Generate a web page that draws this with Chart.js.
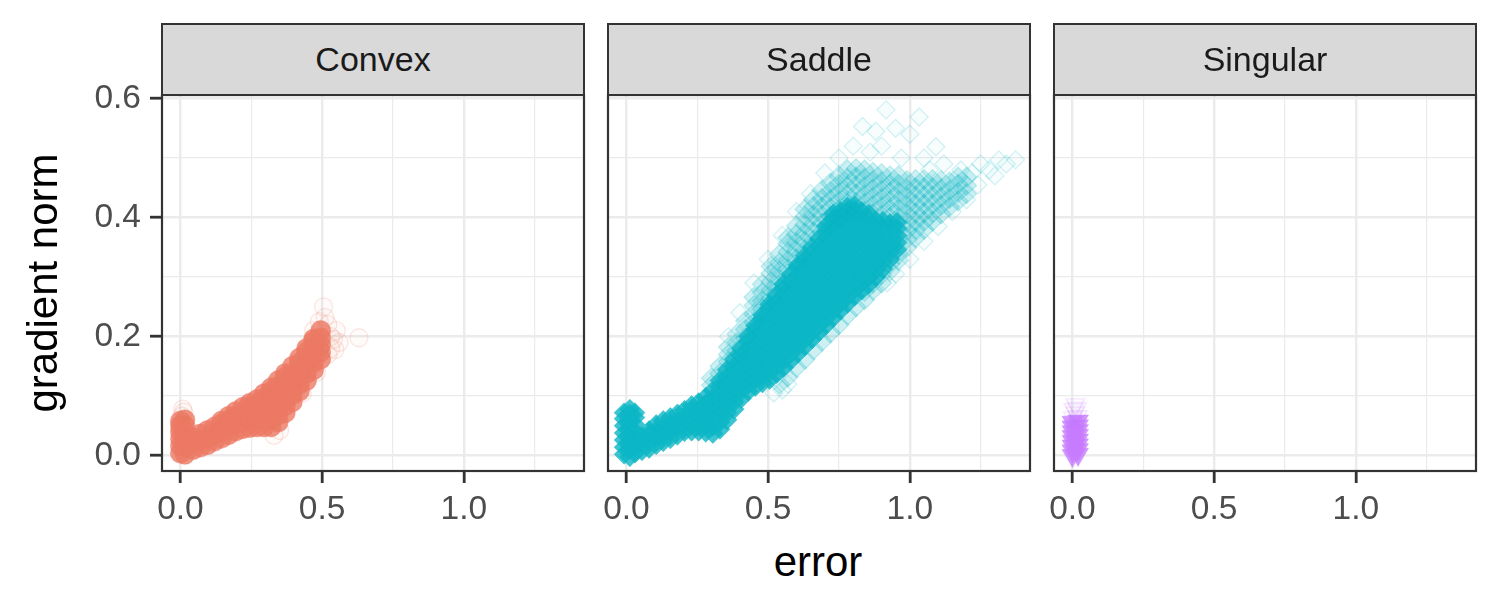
<!DOCTYPE html>
<html>
<head>
<meta charset="utf-8">
<script src="https://cdn.jsdelivr.net/npm/chart.js@4.4.1/dist/chart.umd.min.js"></script>
<style>
  body { margin: 0; width: 1500px; height: 600px; background: #fff; position: relative; overflow: hidden;
         font-family: "Liberation Sans", Arial, sans-serif; }
  .panel { position: absolute; top: 61px; width: 538px; height: 470px; }
  .strip { position: absolute; top: 23px; width: 424px; height: 73px; box-sizing: border-box;
           background: #d9d9d9; border: 2px solid #333; display: flex; align-items: center;
           justify-content: center; font-size: 34px; color: #1a1a1a; }
  .xtitle { position: absolute; left: 618px; width: 400px; top: 541px; height: 42px; line-height: 42px;
            text-align: center; font-size: 42px; color: #000; }
  .ytitle { position: absolute; left: -157px; width: 400px; top: 262px; height: 42px; line-height: 42px;
            text-align: center; font-size: 42px; color: #000; transform: rotate(-90deg); }
</style>
</head>
<body>
<div class="panel" style="left:62px"><canvas id="convexChart" width="538" height="470"></canvas></div>
<div class="panel" style="left:508px"><canvas id="saddleChart" width="538" height="470"></canvas></div>
<div class="panel" style="left:954px"><canvas id="singularChart" width="538" height="470"></canvas></div>
<div class="strip" style="left:161px">Convex</div>
<div class="strip" style="left:607px">Saddle</div>
<div class="strip" style="left:1053px">Singular</div>
<div class="xtitle">error</div>
<div class="ytitle">gradient norm</div>

<script>
// ---------- AXES ----------
const xRange = [-0.065, 1.424];
const yRange = [-0.026, 0.606];
const xMajor = [0, 0.5, 1.0];
const xMinor = [0.25, 0.75, 1.25];
const xTickLabels = ["0.0", "0.5", "1.0"];
const yMajor = [0, 0.2, 0.4, 0.6];
const yMinor = [0.1, 0.3, 0.5];
const yTickLabels = ["0.0", "0.2", "0.4", "0.6"];

// ---------- DATA (error, gradient norm) ----------
// dense part: [error, [gradient norms...]]
const convexCore = [
  [0.0, [0.004, 0.016, 0.028, 0.04, 0.05, 0.058]],
  [0.016, [0.002, 0.014, 0.026, 0.038, 0.05, 0.06]],
  [0.045, [0.01, 0.022, 0.03]],
  [0.07, [0.014, 0.026, 0.036]],
  [0.095, [0.018, 0.03, 0.042]],
  [0.12, [0.024, 0.036, 0.048]],
  [0.145, [0.029, 0.041, 0.053, 0.058]],
  [0.17, [0.035, 0.047, 0.059, 0.066]],
  [0.195, [0.041, 0.053, 0.065, 0.074]],
  [0.22, [0.045, 0.057, 0.069, 0.081]],
  [0.245, [0.047, 0.059, 0.071, 0.083, 0.088]],
  [0.27, [0.048, 0.06, 0.072, 0.084, 0.094]],
  [0.295, [0.048, 0.06, 0.072, 0.084, 0.096, 0.104]],
  [0.32, [0.048, 0.06, 0.072, 0.084, 0.096, 0.108, 0.114]],
  [0.345, [0.056, 0.068, 0.08, 0.092, 0.104, 0.116, 0.126]],
  [0.37, [0.072, 0.084, 0.096, 0.108, 0.12, 0.132, 0.138]],
  [0.395, [0.09, 0.102, 0.114, 0.126, 0.138, 0.15]],
  [0.42, [0.108, 0.12, 0.132, 0.144, 0.156, 0.164]],
  [0.445, [0.126, 0.138, 0.15, 0.162, 0.174, 0.18]],
  [0.47, [0.144, 0.156, 0.168, 0.18, 0.192, 0.196]],
  [0.495, [0.162, 0.174, 0.186, 0.198, 0.21]]
];
const convexFringe = [
  [0.005, 0.066], [0.012, 0.073], [0.008, 0.078], [0.53, 0.18], [0.53, 0.2], [0.52, 0.22], [0.51, 0.232],
  [0.505, 0.25], [0.54, 0.195], [0.55, 0.21], [0.56, 0.19], [0.63, 0.198], [0.49, 0.225],
  [0.47, 0.21], [0.52, 0.17], [0.545, 0.178], [0.33, 0.034], [0.35, 0.042], [0.48, 0.14], [0.43, 0.105]
];

const saddleCore = [
  [-0.008, [0.002, 0.014, 0.026, 0.038, 0.05, 0.062, 0.072]],
  [0.012, [-0.002, 0.01, 0.022, 0.034, 0.046, 0.058, 0.07, 0.078]],
  [0.03, [0.004, 0.016, 0.028, 0.04, 0.052, 0.064, 0.072]],
  [0.055, [0.008, 0.02, 0.032]],
  [0.08, [0.012, 0.024, 0.036, 0.042]],
  [0.105, [0.018, 0.03, 0.042, 0.052]],
  [0.13, [0.023, 0.035, 0.047, 0.059]],
  [0.155, [0.028, 0.04, 0.052, 0.064]],
  [0.18, [0.034, 0.046, 0.058, 0.07]],
  [0.205, [0.04, 0.052, 0.064, 0.076]],
  [0.23, [0.041, 0.053, 0.065, 0.077, 0.084]],
  [0.255, [0.041, 0.053, 0.065, 0.077, 0.089]],
  [0.28, [0.039, 0.051, 0.063, 0.075, 0.087, 0.098]],
  [0.305, [0.037, 0.049, 0.061, 0.073, 0.085, 0.097, 0.109]],
  [0.33, [0.044, 0.056, 0.068, 0.08, 0.092, 0.104, 0.116, 0.126]],
  [0.355, [0.06, 0.072, 0.084, 0.096, 0.108, 0.12, 0.132, 0.144]],
  [0.38, [0.078, 0.09, 0.102, 0.114, 0.126, 0.138, 0.15, 0.162]],
  [0.405, [0.096, 0.108, 0.12, 0.132, 0.144, 0.156, 0.168, 0.18]],
  [0.43, [0.108, 0.12, 0.132, 0.144, 0.156, 0.168, 0.18, 0.192, 0.2]],
  [0.455, [0.116, 0.128, 0.14, 0.152, 0.164, 0.176, 0.188, 0.2, 0.212, 0.218]],
  [0.48, [0.122, 0.134, 0.146, 0.158, 0.17, 0.182, 0.194, 0.206, 0.218, 0.23, 0.236]],
  [0.505, [0.128, 0.14, 0.152, 0.164, 0.176, 0.188, 0.2, 0.212, 0.224, 0.236, 0.248, 0.254]],
  [0.53, [0.138, 0.15, 0.162, 0.174, 0.186, 0.198, 0.21, 0.222, 0.234, 0.246, 0.258, 0.27]],
  [0.555, [0.148, 0.16, 0.172, 0.184, 0.196, 0.208, 0.22, 0.232, 0.244, 0.256, 0.268, 0.28, 0.288]],
  [0.58, [0.16, 0.172, 0.184, 0.196, 0.208, 0.22, 0.232, 0.244, 0.256, 0.268, 0.28, 0.292, 0.304]],
  [0.605, [0.172, 0.184, 0.196, 0.208, 0.22, 0.232, 0.244, 0.256, 0.268, 0.28, 0.292, 0.304, 0.316, 0.32]],
  [0.63, [0.184, 0.196, 0.208, 0.22, 0.232, 0.244, 0.256, 0.268, 0.28, 0.292, 0.304, 0.316, 0.328, 0.336]],
  [0.655, [0.196, 0.208, 0.22, 0.232, 0.244, 0.256, 0.268, 0.28, 0.292, 0.304, 0.316, 0.328, 0.34, 0.35]],
  [0.68, [0.208, 0.22, 0.232, 0.244, 0.256, 0.268, 0.28, 0.292, 0.304, 0.316, 0.328, 0.34, 0.352, 0.364]],
  [0.705, [0.22, 0.232, 0.244, 0.256, 0.268, 0.28, 0.292, 0.304, 0.316, 0.328, 0.34, 0.352, 0.364, 0.376, 0.386]],
  [0.73, [0.232, 0.244, 0.256, 0.268, 0.28, 0.292, 0.304, 0.316, 0.328, 0.34, 0.352, 0.364, 0.376, 0.388, 0.398, 0.406]],
  [0.755, [0.244, 0.256, 0.268, 0.28, 0.292, 0.304, 0.316, 0.328, 0.34, 0.352, 0.364, 0.376, 0.388, 0.4, 0.41]],
  [0.78, [0.256, 0.268, 0.28, 0.292, 0.304, 0.316, 0.328, 0.34, 0.352, 0.364, 0.376, 0.388, 0.4, 0.41, 0.418]],
  [0.805, [0.268, 0.28, 0.292, 0.304, 0.316, 0.328, 0.34, 0.352, 0.364, 0.376, 0.388, 0.4, 0.412, 0.42]],
  [0.83, [0.278, 0.29, 0.302, 0.314, 0.326, 0.338, 0.35, 0.362, 0.374, 0.386, 0.398, 0.41]],
  [0.855, [0.288, 0.3, 0.312, 0.324, 0.336, 0.348, 0.36, 0.372, 0.384, 0.396, 0.406]],
  [0.88, [0.3, 0.312, 0.324, 0.336, 0.348, 0.36, 0.372, 0.384, 0.394]],
  [0.905, [0.314, 0.326, 0.338, 0.35, 0.362, 0.374, 0.386, 0.394]],
  [0.93, [0.33, 0.342, 0.354, 0.366, 0.378, 0.39]],
  [0.955, [0.346, 0.358, 0.37, 0.382, 0.392]]
];
const saddleMid = [
  [0.3, [0.118, 0.13]],
  [0.33, [0.138, 0.15]],
  [0.36, [0.158, 0.17, 0.182]],
  [0.39, [0.176, 0.19, 0.204]],
  [0.42, [0.198, 0.212, 0.226]],
  [0.45, [0.224, 0.238, 0.252, 0.266]],
  [0.48, [0.246, 0.26, 0.274, 0.288]],
  [0.51, [0.264, 0.278, 0.292, 0.306, 0.318]],
  [0.54, [0.12, 0.282, 0.296, 0.31, 0.324, 0.338]],
  [0.57, [0.132, 0.3, 0.314, 0.328, 0.342, 0.356, 0.366]],
  [0.6, [0.148, 0.33, 0.344, 0.358, 0.372, 0.386]],
  [0.63, [0.162, 0.346, 0.36, 0.374, 0.388, 0.402, 0.414]],
  [0.66, [0.178, 0.362, 0.376, 0.39, 0.404, 0.418, 0.43]],
  [0.69, [0.192, 0.376, 0.39, 0.404, 0.418, 0.432, 0.446]],
  [0.72, [0.206, 0.388, 0.402, 0.416, 0.43, 0.444, 0.458]],
  [0.75, [0.22, 0.4, 0.414, 0.428, 0.442, 0.456, 0.47]],
  [0.78, [0.236, 0.41, 0.424, 0.438, 0.452, 0.466, 0.48]],
  [0.81, [0.25, 0.412, 0.426, 0.44, 0.454, 0.468, 0.482]],
  [0.84, [0.262, 0.276, 0.41, 0.424, 0.438, 0.452, 0.466, 0.48]],
  [0.87, [0.278, 0.29, 0.406, 0.42, 0.434, 0.448, 0.462, 0.476]],
  [0.9, [0.29, 0.304, 0.404, 0.418, 0.432, 0.446, 0.46, 0.474]],
  [0.93, [0.31, 0.322, 0.4, 0.414, 0.428, 0.442, 0.456, 0.47]],
  [0.96, [0.328, 0.338, 0.4, 0.414, 0.428, 0.442, 0.456, 0.47]],
  [0.99, [0.35, 0.364, 0.378, 0.392, 0.406, 0.42, 0.434, 0.448, 0.462]],
  [1.02, [0.366, 0.38, 0.394, 0.408, 0.422, 0.436, 0.45, 0.464]],
  [1.05, [0.38, 0.394, 0.408, 0.422, 0.436, 0.45, 0.464]],
  [1.08, [0.394, 0.408, 0.422, 0.436, 0.45, 0.464]],
  [1.11, [0.406, 0.42, 0.434, 0.448, 0.462]],
  [1.14, [0.418, 0.432, 0.446, 0.46]],
  [1.17, [0.428, 0.442, 0.456, 0.468]],
  [1.2, [0.44, 0.454, 0.468]]
];
const saddleFringe = [
  [0.36, 0.2], [0.4, 0.24], [0.45, 0.29], [0.5, 0.33], [0.55, 0.37], [0.6, 0.41], [0.65, 0.44],
  [0.7, 0.475], [0.75, 0.5], [0.8, 0.52], [0.833, 0.553], [0.916, 0.581], [0.88, 0.545], [0.95, 0.55],
  [1.033, 0.569], [1.0, 0.54], [1.092, 0.519], [1.05, 0.5], [1.12, 0.49], [1.18, 0.48], [1.25, 0.49],
  [1.314, 0.497], [1.373, 0.497], [1.3, 0.47], [1.24, 0.455], [1.2, 0.43], [1.15, 0.41], [1.1, 0.385],
  [1.05, 0.36], [1.0, 0.33], [0.95, 0.305], [0.92, 0.29], [0.55, 0.11], [0.57, 0.12], [0.52, 0.105],
  [0.9, 0.52], [0.86, 0.51], [0.97, 0.5], [1.07, 0.48], [1.28, 0.48], [1.34, 0.49], [1.22, 0.475]
];

const singularCore = [
  [0.0, [0.0, 0.008, 0.016, 0.024, 0.032, 0.04, 0.048, 0.056]],
  [0.02, [0.002, 0.01, 0.018, 0.026, 0.034, 0.042, 0.05, 0.058]]
];
const singularFringe = [
  [0.002, 0.064], [0.018, 0.066], [0.01, 0.072], [0.004, 0.078], [0.016, 0.08], [0.01, 0.086]
];

// ---------- HELPERS ----------
const colsToPoints = cols => cols.flatMap(([x, ys]) => ys.map(y => ({ x: x, y: y })));
const pairsToPoints = pairs => pairs.map(([x, y]) => ({ x: x, y: y }));
const rgba = (c, a) => `rgba(${c[0]}, ${c[1]}, ${c[2]}, ${a})`;

const panelBorder = {
  id: "panelBorder",
  afterDraw(chart) {
    const { ctx, chartArea: a } = chart;
    ctx.save();
    ctx.strokeStyle = "#333333";
    ctx.lineWidth = 2.2;
    ctx.strokeRect(a.left, a.top, a.right - a.left, a.bottom - a.top);
    ctx.restore();
  }
};

Chart.defaults.font.family = '"Liberation Sans", Arial, sans-serif';

function makeOptions(showY) {
  return {
    responsive: false,
    animation: false,
    events: [],
    layout: { padding: { top: 34, right: 16, left: 0, bottom: 0 } },
    plugins: { legend: { display: false }, tooltip: { enabled: false } },
    scales: {
      x: {
        type: "linear", min: xRange[0], max: xRange[1],
        afterBuildTicks: s => { s.ticks = xMajor.concat(xMinor).sort((a, b) => a - b).map(v => ({ value: v })); },
        afterFit: s => { s.height = 60; },
        border: { display: false },
        grid: {
          color: "#ebebeb",
          lineWidth: c => (c.tick && xMajor.includes(c.tick.value)) ? 2.4 : 1.2,
          tickColor: c => (c.tick && xMajor.includes(c.tick.value)) ? "#333333" : "rgba(0,0,0,0)",
          tickWidth: 2.8,
          tickLength: 12
        },
        ticks: {
          autoSkip: false, maxRotation: 0, padding: 7, color: "#4d4d4d", font: { size: 33.5 },
          callback: v => { const i = xMajor.indexOf(v); return i >= 0 ? xTickLabels[i] : ""; }
        }
      },
      y: {
        type: "linear", min: yRange[0], max: yRange[1],
        afterBuildTicks: s => { s.ticks = yMajor.concat(yMinor).sort((a, b) => a - b).map(v => ({ value: v })); },
        afterFit: s => { s.width = 100; },
        border: { display: false },
        grid: {
          color: "#ebebeb",
          lineWidth: c => (c.tick && yMajor.includes(c.tick.value)) ? 2.4 : 1.2,
          tickColor: c => (c.tick && yMajor.includes(c.tick.value)) ? "#333333" : "rgba(0,0,0,0)",
          tickWidth: 2.8,
          tickLength: 12,
          drawTicks: showY
        },
        ticks: {
          display: showY, autoSkip: false, padding: 9, color: "#4d4d4d", font: { size: 33.5 },
          callback: v => { const i = yMajor.indexOf(v); return i >= 0 ? yTickLabels[i] : ""; }
        }
      }
    }
  };
}

function makeDatasets(color, style, rotation, radius, core, mid, fringe) {
  const sets = [];
  sets.push({
    data: pairsToPoints(fringe), pointStyle: style, rotation: rotation, pointRadius: radius - 1,
    backgroundColor: rgba(color, 0.03), borderColor: rgba(color, 0.18), borderWidth: 1.3
  });
  if (mid) {
    sets.push({
      data: colsToPoints(mid), pointStyle: style, rotation: rotation, pointRadius: radius,
      backgroundColor: rgba(color, 0.2), borderColor: rgba(color, 0.22), borderWidth: 1.2
    });
  }
  sets.push({
    data: colsToPoints(core), pointStyle: style, rotation: rotation, pointRadius: radius,
    backgroundColor: rgba(color, 0.8), borderColor: rgba(color, 0.4), borderWidth: 1
  });
  return sets;
}

const convexColor = [236, 121, 100];
const saddleColor = [11, 182, 197];
const singularColor = [199, 124, 255];

new Chart(document.getElementById("convexChart"), {
  type: "scatter",
  data: { datasets: makeDatasets(convexColor, "circle", 0, 10, convexCore, null, convexFringe) },
  options: makeOptions(true),
  plugins: [panelBorder]
});

new Chart(document.getElementById("saddleChart"), {
  type: "scatter",
  data: { datasets: makeDatasets(saddleColor, "rectRot", 0, 10, saddleCore, saddleMid, saddleFringe) },
  options: makeOptions(false),
  plugins: [panelBorder]
});

new Chart(document.getElementById("singularChart"), {
  type: "scatter",
  data: { datasets: makeDatasets(singularColor, "triangle", 180, 12, singularCore, null, singularFringe) },
  options: makeOptions(false),
  plugins: [panelBorder]
});
</script>
</body>
</html>
